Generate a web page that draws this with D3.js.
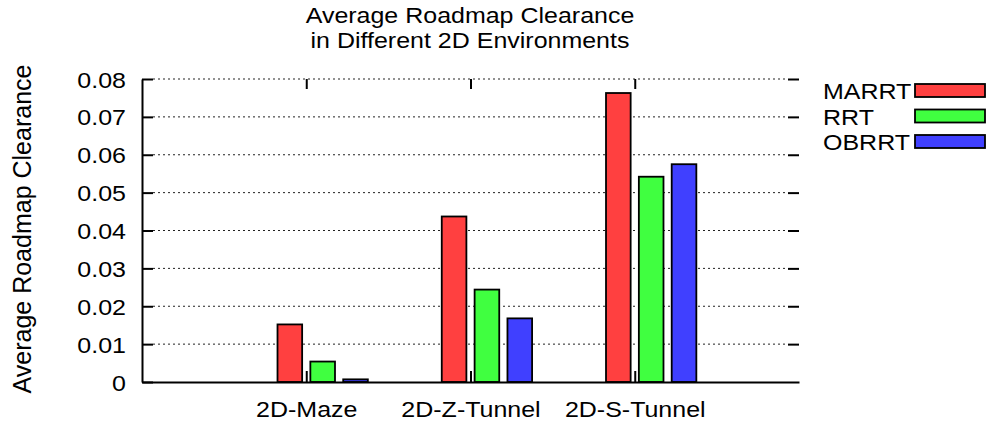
<!DOCTYPE html>
<html>
<head>
<meta charset="utf-8">
<script src="https://cdn.jsdelivr.net/npm/d3@7"></script>
<style>
	body { margin: 0; background: #fff; }
	svg { display: block; font-family: 'Liberation Sans', Arial, sans-serif; }
</style>
</head>
<body>
<div id="graphic"></div>
<script>
// chart values
var categories = ['2D-Maze', '2D-Z-Tunnel', '2D-S-Tunnel'];
var seriesNames = ['MARRT', 'RRT', 'OBRRT'];
var marrt = [0.0152, 0.0437, 0.0763];
var rrt = [0.0054, 0.0244, 0.0542];
var obrrt = [0.0007, 0.0168, 0.0575];
var yTicks = [0, 0.01, 0.02, 0.03, 0.04, 0.05, 0.06, 0.07, 0.08];
var titleLines = ['Average Roadmap Clearance', 'in Different 2D Environments'];
var yLabel = 'Average Roadmap Clearance';

var colours = ['#ff4040', '#40ff40', '#4040ff'];
var seriesValues = [marrt, rrt, obrrt];

var width = 987, height = 423;
var margin = { left: 142, right: 188, top: 79, bottom: 41 };
var stretch = 'scale(1.136,1)'; // glyphs in the picture are a bit wide

var svg = d3.select('#graphic')
	.append('svg')
	.attr('width', width)
	.attr('height', height);

// category index on a linear scale, like the original histogram
var x = d3.scaleLinear()
	.domain([0, categories.length + 1])
	.range([margin.left, width - margin.right]);

var y = d3.scaleLinear()
	.domain([0, 0.08])
	.range([height - margin.bottom, margin.top]);

var unit = x(1) - x(0);

//title
svg.append('g')
	.selectAll('text')
	.data(titleLines)
	.join('text')
	.attr('transform', (d, i) => 'translate(470,' + (23 + i * 25) + ') ' + stretch)
	.attr('text-anchor', 'middle')
	.style('font-size', '22px')
	.text((d) => d);

//y axis label
svg.append('text')
	.attr('transform', 'translate(31,229) rotate(-90)')
	.attr('text-anchor', 'middle')
	.style('font-size', '25px')
	.text(yLabel);

//dotted grid
svg.append('g')
	.selectAll('line')
	.data(yTicks.filter((d) => d > 0))
	.join('line')
	.attr('x1', margin.left + 11)
	.attr('x2', width - margin.right - 11)
	.attr('y1', (d) => y(d))
	.attr('y2', (d) => y(d))
	.attr('stroke', '#222')
	.attr('stroke-width', 1)
	.attr('stroke-dasharray', '2,3');

//bars
var barData = [];
categories.forEach(function (c, k) {
	seriesValues.forEach(function (vals, i) {
		barData.push({ cat: k + 1, series: i, value: vals[k] });
	});
});

svg.append('g')
	.selectAll('rect')
	.data(barData)
	.join('rect')
	.attr('x', (d) => x(d.cat + (d.series - 0.5) * 0.2 - 0.075))
	.attr('width', 0.15 * unit)
	.attr('y', (d) => y(d.value))
	.attr('height', (d) => y(0) - y(d.value))
	.attr('fill', (d) => colours[d.series])
	.attr('stroke', '#000')
	.attr('stroke-width', 1.8);

//left axis
var yAxis = svg.append('g')
	.attr('transform', 'translate(' + margin.left + ',0)')
	.call(d3.axisLeft(y).tickValues(yTicks).tickSizeInner(-11).tickSizeOuter(0)
		.tickFormat((d) => (d === 0 ? '0' : d3.format('.2f')(d))));
yAxis.selectAll('text')
	.attr('x', null)
	.attr('dy', null)
	.attr('y', 8)
	.attr('transform', 'translate(-16,0) ' + stretch)
	.style('font-size', '22px')
	.attr('fill', '#000');

//right mirrored ticks
var yAxisRight = svg.append('g')
	.attr('transform', 'translate(' + (width - margin.right) + ',0)')
	.call(d3.axisRight(y).tickValues(yTicks.filter((d) => d > 0)).tickSize(-11).tickFormat(''));
yAxisRight.select('.domain').remove();

//bottom axis
var xAxis = svg.append('g')
	.attr('transform', 'translate(0,' + y(0) + ')')
	.call(d3.axisBottom(x).tickValues([1, 2, 3]).tickSizeInner(-11).tickSizeOuter(0)
		.tickFormat((d) => categories[d - 1]));
xAxis.selectAll('text')
	.attr('dy', null)
	.attr('y', 35)
	.attr('transform', stretch)
	.style('font-size', '22px')
	.attr('fill', '#000');

//top mirrored ticks
var xAxisTop = svg.append('g')
	.attr('transform', 'translate(0,' + margin.top + ')')
	.call(d3.axisTop(x).tickValues([1, 2, 3]).tickSize(-10).tickFormat(''));
xAxisTop.select('.domain').remove();

svg.selectAll('.domain, .tick line')
	.attr('stroke', '#000')
	.attr('stroke-width', 2);

//legend
var legend = svg.append('g')
	.selectAll('g')
	.data(seriesNames)
	.join('g')
	.attr('transform', (d, i) => 'translate(0,' + i * 25.5 + ')');

legend.append('text')
	.attr('transform', 'translate(823,99) ' + stretch)
	.style('font-size', '22px')
	.text((d) => d);

legend.append('rect')
	.attr('x', 915)
	.attr('y', 84)
	.attr('width', 70)
	.attr('height', 13)
	.attr('fill', (d, i) => colours[i])
	.attr('stroke', '#000')
	.attr('stroke-width', 1.8);
</script>
</body>
</html>
